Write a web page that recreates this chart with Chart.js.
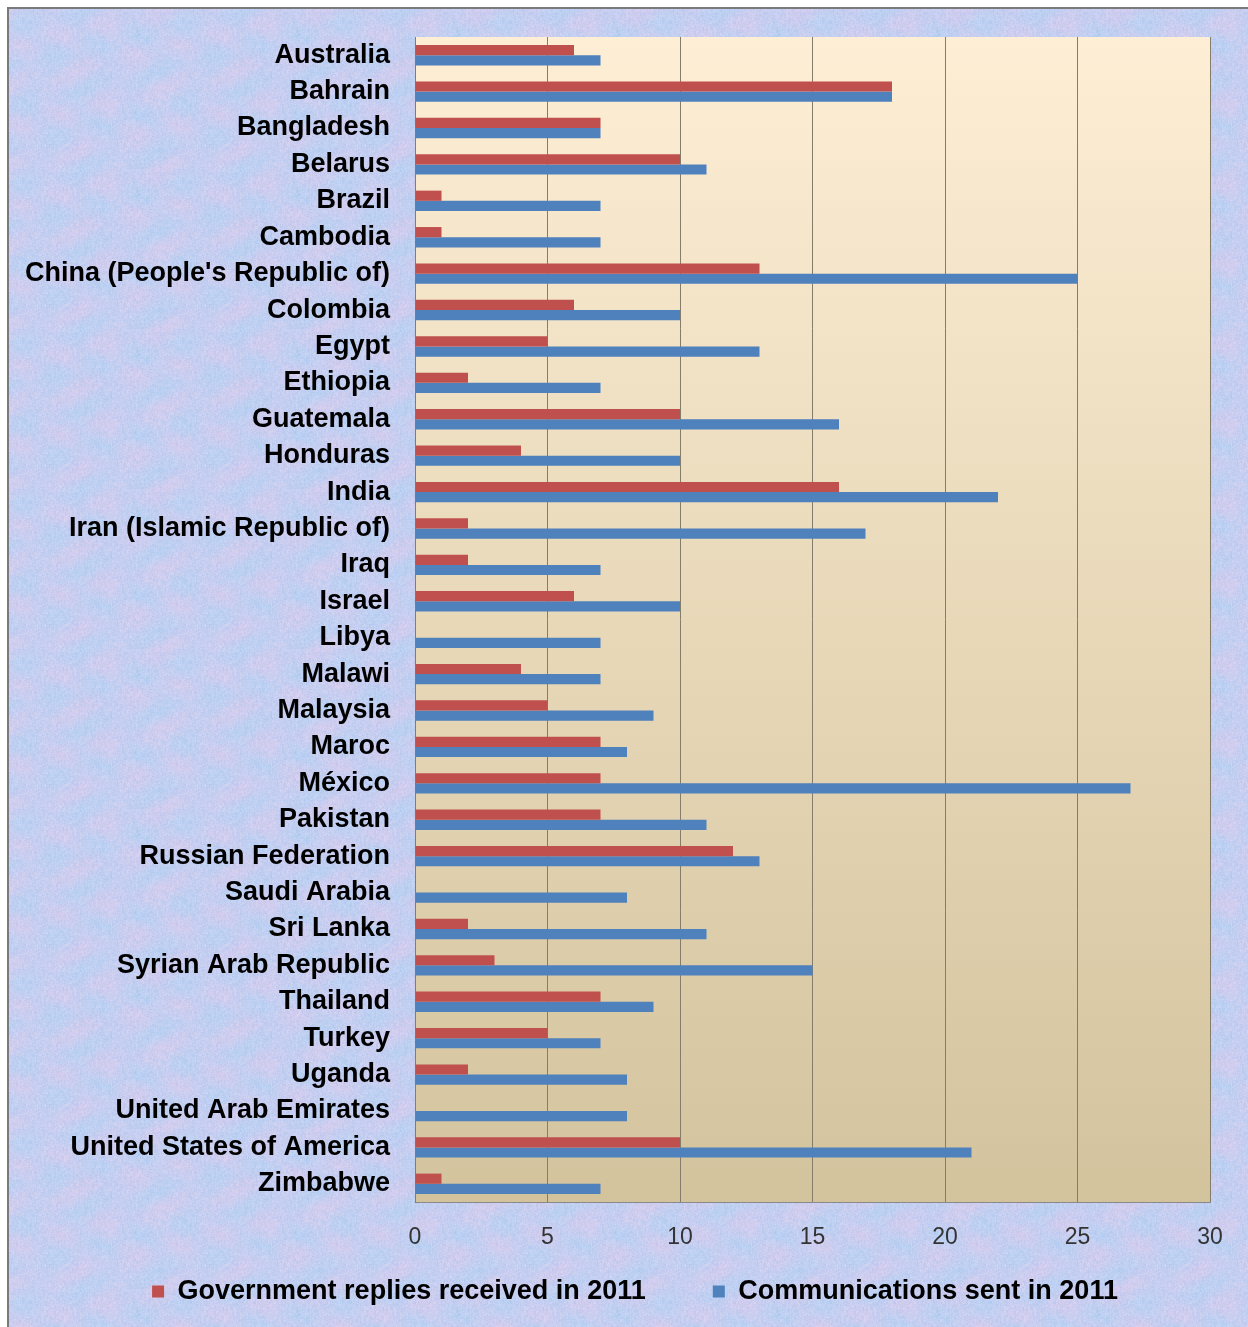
<!DOCTYPE html>
<html>
<head>
<meta charset="utf-8">
<script src="https://cdn.jsdelivr.net/npm/chart.js@4.4.1/dist/chart.umd.min.js"></script>
<style>
html,body{margin:0;padding:0;background:#fff;}
#wrap{position:relative;width:1248px;height:1327px;}
canvas{display:block;}
</style>
</head>
<body>
<div id="wrap"><canvas id="c" width="1248" height="1327"></canvas></div>
<script>
const categories = [
  "Australia","Bahrain","Bangladesh","Belarus","Brazil","Cambodia",
  "China (People's Republic of)","Colombia","Egypt","Ethiopia","Guatemala",
  "Honduras","India","Iran (Islamic Republic of)","Iraq","Israel","Libya",
  "Malawi","Malaysia","Maroc","México","Pakistan","Russian Federation",
  "Saudi Arabia","Sri Lanka","Syrian Arab Republic","Thailand","Turkey",
  "Uganda","United Arab Emirates","United States of America","Zimbabwe"
];
const repliesReceived = [6,18,7,10,1,1,13,6,5,2,10,4,16,2,2,6,0,4,5,7,7,7,12,0,2,3,7,5,2,0,10,1];
const communicationsSent = [7,18,7,11,7,7,25,10,13,7,16,10,22,17,7,10,7,7,9,8,27,11,13,8,11,15,9,7,8,8,21,7];
const seriesNames = ["Government replies received in 2011","Communications sent in 2011"];
const xTicks = [0,5,10,15,20,25,30];

function makePattern(ctx){
  const s = 160;
  const oc = document.createElement('canvas');
  oc.width = s; oc.height = s;
  const o = oc.getContext('2d');
  const img = o.createImageData(s, s);
  const h = (x,y)=>{ const v = Math.sin(x*12.9898 + y*78.233)*43758.5453; return v - Math.floor(v); };
  const P = 2*Math.PI/s;
  for(let y=0;y<s;y++){
    for(let x=0;x<s;x++){
      const low = 0.5 + 0.25*Math.sin(x*P*3 + Math.sin(y*P*2)*2) + 0.25*Math.sin(y*P*4 + x*P);
      const n = h(x, Math.floor(y/3)) * 0.5 + h(Math.floor(x/2)+7, y)*0.5;
      const t = Math.min(1, Math.max(0, low*0.6 + n*0.3 - 0.12));
      const r = 186 + (220-186)*t + (n-0.5)*18;
      const g = 208 + (202-208)*t + (n-0.5)*16;
      const b = 242 + (236-242)*t + (n-0.5)*8;
      const i = (y*s + x)*4;
      img.data[i]=r; img.data[i+1]=g; img.data[i+2]=b; img.data[i+3]=255;
    }
  }
  o.putImageData(img,0,0);
  return ctx.createPattern(oc,'repeat');
}

const LEGEND_FIT_PAD = 16;
const LEGEND_GAP = 67;

const bgPlugin = {
  id: 'bg',
  afterLayout(chart){
    const lg = chart.legend;
    if (!lg) return;
    const d = LEGEND_GAP - LEGEND_FIT_PAD;
    lg.options.labels.padding = LEGEND_GAP;
    lg.top -= d;
    lg.left -= 2*d - 60;
  },
  beforeDraw(chart){
    const {ctx, chartArea:a, width, height} = chart;
    ctx.save();
    ctx.fillStyle = '#ffffff';
    ctx.fillRect(0,0,width,height);
    ctx.fillStyle = makePattern(ctx);
    ctx.fillRect(9,9,width-9,height-9);
    ctx.strokeStyle = '#7a7a7a';
    ctx.lineWidth = 2;
    ctx.beginPath();
    ctx.moveTo(8,height); ctx.lineTo(8,8); ctx.lineTo(width,8);
    ctx.stroke();
    const g = ctx.createLinearGradient(0,a.top,0,a.bottom);
    g.addColorStop(0,'#fdeed5');
    g.addColorStop(1,'#d3c39d');
    ctx.fillStyle = g;
    ctx.fillRect(a.left,a.top,a.right-a.left,a.bottom-a.top);
    ctx.restore();
  }
};

const FONT = "'Liberation Sans', Arial, sans-serif";

new Chart(document.getElementById('c'), {
  type: 'bar',
  data: {
    labels: categories,
    datasets: [
      { label: seriesNames[0], data: repliesReceived, backgroundColor: '#c0504d', borderWidth: 0,
        categoryPercentage: 0.56, barPercentage: 1.0 },
      { label: seriesNames[1], data: communicationsSent, backgroundColor: '#4f81bd', borderWidth: 0,
        categoryPercentage: 0.56, barPercentage: 1.0 }
    ]
  },
  options: {
    indexAxis: 'y',
    responsive: false,
    animation: false,
    layout: { padding: { top: 37, right: 38, left: 0, bottom: 12 } },
    plugins: {
      tooltip: { enabled: false },
      title: { display: false },
      legend: {
        position: 'bottom',
        labels: {
          boxWidth: 12, boxHeight: 12, padding: LEGEND_FIT_PAD,
          color: '#000',
          font: { family: FONT, size: 27, weight: 'bold' }
        }
      }
    },
    scales: {
      x: {
        min: 0, max: 30,
        afterBuildTicks(scale){ scale.ticks = xTicks.map(v => ({value: v})); },
        afterFit(scale){ scale.height = 60; },
        grid: { color: '#857d6b', lineWidth: 1, drawTicks: false },
        border: { color: '#8a8a8a', width: 1 },
        ticks: {
          padding: 22,
          color: '#333',
          font: { family: FONT, size: 23 }
        }
      },
      y: {
        afterFit(scale){ scale.width = 415; scale.paddingTop = 0; scale.paddingBottom = 0; },
        grid: { display: false, drawTicks: false },
        border: { color: '#857d6b', width: 1 },
        ticks: {
          padding: 25,
          autoSkip: false,
          color: '#000',
          font: { family: FONT, size: 27, weight: 'bold' }
        }
      }
    }
  },
  plugins: [bgPlugin]
});
</script>
</body>
</html>
